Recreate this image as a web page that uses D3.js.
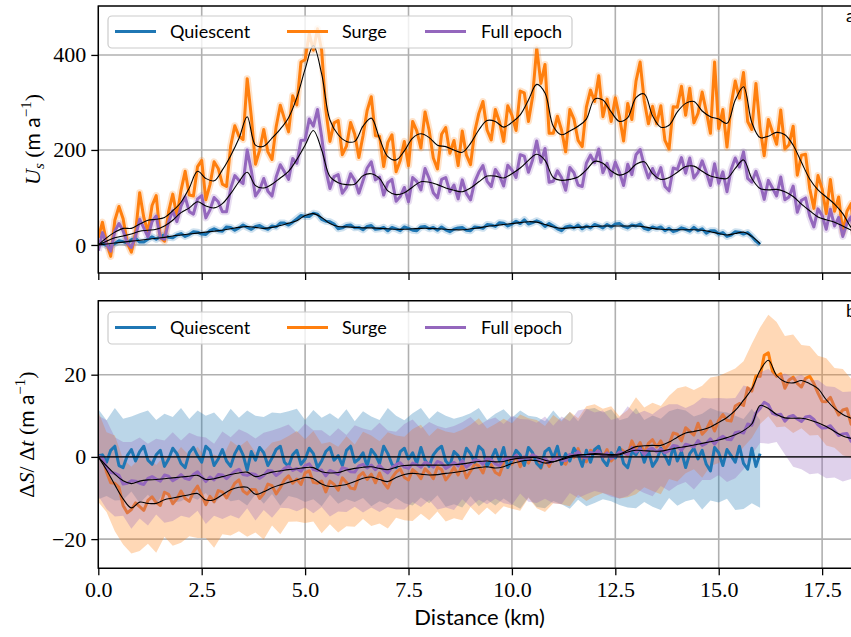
<!DOCTYPE html>
<html><head><meta charset="utf-8">
<script src="https://cdn.jsdelivr.net/npm/d3@7"></script>
<style>
html,body{margin:0;padding:0;background:#fff;}
svg{display:block;}
</style></head>
<body>
<svg id="chart" width="851" height="637"></svg>
<script>
// ---------------- DATA ----------------
const seriesNames = ["Quiescent", "Surge", "Full epoch"];
const xTickValues = [0, 2.5, 5, 7.5, 10, 12.5, 15, 17.5];
const usTickValues = [0, 200, 400];
const dsTickValues = [-20, 0, 20];
const fineStep = 0.1;   // km between raw samples
const coarseStep = 0.2; // km between smoothed / band samples

// Panel a: surface velocity U_s (m/a), raw profiles (0.1 km spacing)
const usQuiescent = [2,3,-1,-2,3,9,7,4,11,14, 6,6,12,17,12,18,21,16,15,21,
 24,18,22,28,27,23,22,30,34,30, 29,38,37,31,36,42,37,33,39,41,
 36,33,40,38,46,46,42,48,55,62, 60,60,67,65,54,50,49,44,34,36,
 41,42,36,37,32,39,41,33,34,37, 30,37,34,30,38,35,31,30,38,39,
 34,37,31,38,32,28,33,36,37,31, 30,38,37,35,43,42,39,47,46,40,
 44,50,45,53,44,47,51,47,39,45, 40,34,30,38,40,36,42,34,40,36,
 43,40,36,43,38,44,45,39,36,42, 40,44,35,32,38,35,38,30,35,28,
 31,36,33,29,37,30,34,25,30,30, 23,26,18,21,28,27,23,26,18,8, 1];
const usSurge = [15,48,5,-24,52,81,55,5,-15,25, 110,58,27,83,104,16,8,70,107,61,
 115,155,105,103,165,178,95,127,175,161, 128,123,208,251,229,222,350,270,170,199,
 243,196,180,249,294,266,238,314,295,385, 390,445,410,455,410,285,218,257,262,190,
 208,258,233,184,230,283,312,230,229,165, 216,232,154,178,218,167,260,240,204,280,
 241,183,160,233,247,193,220,167,240,189, 169,238,277,302,242,221,285,259,218,293,
 273,241,324,320,260,312,415,340,380,235, 235,271,242,196,285,265,220,207,290,326,
 302,356,270,307,260,310,270,219,298,264, 345,385,303,255,292,255,293,220,202,291,
 290,334,273,330,257,277,322,281,235,385, 245,285,206,295,345,309,363,260,243,340,
 246,188,264,238,212,284,202,211,250,147, 189,191,119,77,146,118,66,138,71,101,
 26,71,87,3,15,44,-37];
const usFull = [-12,26,2,-13,29,45,30,4,-5,18, 54,36,17,49,61,15,12,49,72,49,
 82,101,70,65,97,104,57,74,100,91, 70,70,119,146,136,129,200,156,103,116,
 140,113,103,143,169,154,138,182,172,220, 221,265,250,285,228,158,119,144,148,109,
 121,150,136,109,135,162,175,137,143,105, 131,138,92,102,121,91,142,134,116,161,
 140,110,99,138,142,112,126,97,137,108, 95,133,153,167,134,123,159,146,124,168,
 158,142,190,187,153,179,219,174,203,132, 134,156,142,115,163,152,126,123,172,189,
 173,202,152,172,145,174,153,125,170,148, 190,201,167,141,161,141,163,123,114,162,
 159,184,151,183,141,153,177,153,125,171, 130,154,112,159,183,164,196,140,132,155,
 130,96,136,120,103,143,95,101,124,69, 94,99,61,38,76,62,33,75,40,58,
 18,46,59,12,19,34,-13];
// Panel a: smoothed profiles (0.2 km spacing)
const usQuiescentSmooth = [0,2,4,6,8,10,12,14,16,19, 21,23,25,27,29,31,34,37,39,37,
 35,37,41,46,51,62,66,58,45,39, 38,37,36,36,35,34,33,33,34,35,
 35,34,33,32,32,34,36,39,41,43, 45,47,49,48,43,38,35,36,37,38,
 39,40,40,40,40,40,38,35,33,32, 32,32,32,31,28,24,21,24,27,18, 3];
const usSurgeSmooth = [0,15,27,35,35,44,52,54,58,72, 90,120,155,140,135,158,188,224,270,210,
 208,225,244,268,310,370,420,360,263,232, 218,218,250,267,224,186,179,198,225,234,
 226,210,207,200,195,214,242,262,260,248, 258,274,305,338,320,250,232,240,250,265,
 307,305,280,260,268,310,318,272,248,252, 280,298,302,282,270,265,256,305,333,258,
 226,229,237,232,210,174,139,116,101,86, 66,37,20,8];
const usFullSmooth = [0,8,15,19,23,29,31,33,40,52, 68,78,91,82,78,87,108,133,153,125,
 120,128,141,155,180,210,241,200,144,131, 127,128,146,150,140,114,106,110,122,133,
 132,127,120,115,112,120,133,145,145,141, 150,162,178,191,178,142,136,138,143,158,
 176,172,156,147,153,170,175,150,138,142, 153,165,166,155,145,141,140,161,179,140,
 119,116,117,112,102,86,72,59,53,48, 40,31,22,12];

// Panel b: surface elevation change rate dS/dt (m/a), raw profiles (0.1 km spacing)
const dsQuiescent = [0.3,0.5,-1.3,1.6,2.6,-2.1,-2.6,0.3,1.8,-1.0, 1.3,2.6,-0.8,-1.8,0.5,1.6,-2.3,-0.5,2.1,0.8,
 -1.6,-2.6,1.0,2.3,0.3,-1.3,2.6,1.6,-2.1,-0.5, 1.8,-1.0,-2.3,0.8,2.6,0.5,-3.2,1.3,-0.8,2.3,
 1.0,-2.1,-0.3,1.8,2.6,-1.3,-2.3,0.5,1.6,-1.8, -0.5,2.1,0.8,-2.6,-1.0,1.3,2.3,-0.8,0.3,-2.1,
 1.6,2.6,-1.3,-0.5,1.0,-2.3,1.8,0.5,-1.6,2.6, 0.8,-1.8,-2.6,1.3,2.1,-0.5,1.0,-1.6,2.3,-0.8,
 -2.3,0.5,1.8,2.6,-1.0,-2.1,1.3,0.3,-1.6,2.1, 0.8,-1.3,2.6,1.6,-2.3,-0.5,1.8,-1.0,2.3,-2.6,
 -0.8,1.6,0.5,-2.1,2.3,1.0,-1.6,-2.6,1.3,2.1, -0.3,2.6,-1.8,0.8,-1.0,2.1,0.5,-2.3,1.6,-1.3,
 1.8,2.6,-0.8,-2.1,1.0,-0.3,2.3,-1.6,-2.6,1.3, 0.5,2.3,-1.3,1.6,-2.3,-0.8,2.1,0.3,-1.8,2.6,
 -1.0,1.3,-2.6,0.8,2.1,-0.5,1.6,-1.8,-3.4,2.3, 1.0,-2.1,1.8,0.3,-1.3,2.6,-1.6,-3.0,2.1,-2.3, 0.8];
const dsSurge = [0.5,0.2,-3.7,-6.3,-6.4,-7.4,-11.8,-13.6,-12.8,-11.2, -12.1,-13.0,-10.6,-9.7,-11.1,-11.8,-8.6,-9.1,-11.4,-10.2,
 -8.3,-10.1,-10.8,-8.5,-7.1,-9.3,-11.6,-9.6,-10.9,-8.2, -8.5,-10.0,-8.2,-6.4,-5.6,-8.3,-9.0,-7.9,-8.0,-10.1,
 -8.9,-6.6,-7.0,-9.0,-7.5,-5.6,-4.6,-6.4,-5.4,-6.7, -3.9,-3.4,-6.2,-6.4,-5.9,-8.5,-5.9,-6.7,-8.1,-5.1,
 -6.2,-7.6,-7.8,-4.7,-3.8,-5.5,-4.2,-6.3,-3.9,-6.3, -7.6,-5.1,-3.7,-2.9,-5.0,-5.6,-3.1,-3.9,-5.3,-2.9,
 -3.9,-5.3,-2.5,-3.1,-5.6,-4.3,-2.5,-4.4,-1.9,-5.1, -3.5,-1.7,-2.2,-3.9,-0.8,-1.9,-3.8,-4.4,-1.5,-0.6,
 -1.8,0.5,-2.4,-0.4,-1.5,0.6,-0.5,-2.8,-0.4,-2.3, 0.1,0.9,-1.2,-1.8,0.6,-0.1,2.0,-0.6,-1.2,1.6,
 1.2,2.4,-0.2,1.8,-1.0,0.1,2.1,1.4,0.3,3.9, 1.8,3.5,0.9,3.3,4.2,2.4,3.9,1.9,3.1,5.8,
 5.5,3.9,7.1,6.2,5.3,8.2,5.5,6.6,8.7,6.3, 8.9,10.3,8.9,8.7,12.4,13.0,12.5,16.8,16.0,19.7,
 19.6,24.7,25.3,20.8,19.6,20.2,16.7,18.7,19.4,17.9, 17.0,19.1,19.6,17.9,15.5,13.5,13.4,14.5,12.2,10.2,
 11.4,11.7,8.0,7.2,8.7,9.5,7.1];
const dsFull = [0.2,-0.2,-2.5,-3.8,-4.0,-4.5,-6.6,-6.4,-5.8,-5.9, -6.4,-6.7,-5.2,-4.8,-5.4,-5.9,-4.4,-4.7,-5.8,-5.2,
 -4.3,-5.2,-5.5,-4.3,-3.6,-4.8,-6.0,-4.9,-5.6,-4.3, -4.4,-5.3,-4.4,-3.5,-3.0,-4.3,-4.5,-4.1,-4.3,-5.2,
 -4.5,-3.3,-3.4,-4.5,-3.8,-2.8,-2.3,-3.3,-2.8,-3.5, -2.1,-1.7,-3.1,-3.3,-3.2,-4.6,-3.3,-3.7,-4.3,-2.6,
 -2.9,-3.6,-3.7,-2.2,-1.8,-2.7,-2.0,-3.1,-2.0,-3.2, -3.9,-2.6,-1.9,-1.4,-2.5,-2.8,-1.5,-1.9,-2.5,-1.3,
 -1.7,-2.5,-1.1,-1.5,-2.8,-2.2,-1.3,-2.2,-0.9,-2.5, -1.7,-0.7,-0.9,-1.8,-0.2,-0.7,-1.7,-2.1,-0.6,-0.1,
 -0.7,0.4,-0.9,0.0,-0.6,0.5,0.0,-1.3,-0.3,-1.5, -0.6,0.0,-0.8,-0.9,0.6,0.3,1.3,0.0,-0.3,1.1,
 0.8,1.4,0.0,1.0,-0.4,0.2,1.2,1.0,0.6,2.3, 1.2,2.0,0.6,1.8,2.1,1.2,1.9,1.0,1.5,2.8,
 2.6,1.6,3.1,2.8,2.4,4.0,2.8,3.3,4.4,3.1, 4.4,5.0,4.3,4.2,5.9,6.1,5.8,8.0,7.7,10.7,
 11.8,13.3,12.7,10.6,10.2,10.4,8.7,9.8,10.1,9.2, 8.6,9.7,9.9,9.1,7.8,7.0,7.1,7.6,6.4,5.2,
 5.6,5.7,3.8,3.4,4.1,4.4,3.2];
// Panel b: smoothed profiles (0.2 km spacing)
const dsSurgeSmooth = [0,-3.2,-6.8,-10.2,-12.4,-11.0,-11.3,-11.3,-10.4,-10.0, -9.6,-9.2,-8.9,-10.5,-10.4,-9.2,-8.0,-7.4,-7.4,-9.1,
 -8.5,-7.5,-6.8,-6.2,-5.6,-5.0,-5.3,-6.6,-7.2,-7.0, -6.7,-6.0,-5.2,-4.9,-5.5,-6.0,-5.0,-4.3,-4.0,-4.2,
 -4.4,-4.3,-4.0,-3.8,-3.5,-3.0,-2.6,-2.4,-2.7,-2.4, -1.6,-1.1,-0.8,-0.9,-1.5,-1.2,-0.7,-0.1,0.4,0.6,
 0.8,0.7,0.6,0.7,1.6,2.5,2.7,2.8,2.8,3.6, 4.8,5.8,6.2,6.6,7.3,8.4,9.6,11.3,13.8,16.5,
 21.0,23.5,19.8,18.3,18.0,18.6,17.8,16.6,13.9,11.8, 10.3,9.4,8.5,7.8];
const dsFullSmooth = [0,-2.2,-4.2,-5.8,-6.5,-5.9,-5.6,-5.5,-5.3,-5.1, -4.9,-4.7,-4.5,-5.5,-5.3,-4.8,-4.3,-3.9,-3.7,-4.8,
 -4.3,-3.7,-3.4,-3.1,-2.9,-2.6,-2.6,-3.6,-3.9,-3.8, -3.2,-2.8,-2.5,-2.4,-2.8,-3.1,-2.5,-2.1,-2.0,-2.0,
 -2.0,-2.0,-2.0,-1.9,-1.7,-1.4,-1.1,-1.0,-1.2,-1.1, -0.6,-0.3,-0.2,-0.2,-0.8,-1.2,-0.5,0.2,0.5,0.6,
 0.6,0.5,0.4,0.5,1.2,1.6,1.5,1.4,1.4,1.8, 2.2,2.5,2.9,3.3,3.7,4.1,4.7,5.4,6.4,8.0,
 12.5,11.8,10.3,9.5,9.4,9.4,9.0,8.3,7.4,6.2, 5.1,4.5,4.0,3.6];
// Panel b: spread bands (0.2 km spacing)
const dsQuiescentHi = [11.6,8.9,11.9,9.3,9.8,10.6,11.3,9.0,10.5,9.7, 11.9,9.2,11.3,10.0,10.8,8.7,11.7,9.5,11.3,10.0,
 9.7,10.8,10.6,11.1,11.7,9.0,11.4,9.5,10.6,9.2, 11.6,8.7,11.1,9.8,9.0,11.9,10.0,8.9,10.6,11.9,
 9.2,11.1,10.0,9.3,9.8,10.6,11.9,9.0,10.5,11.6, 9.5,11.3,10.0,9.7,8.7,11.3,9.0,10.9,8.7,11.6,
 11.9,10.8,11.6,8.9,9.5,11.9,9.0,10.1,9.3,11.1, 11.7,11.3,9.8,10.5,11.9,11.1,10.8,10.0,9.2,11.7, 9.0];
const dsQuiescentLo = [-10.3,-9.5,-10.6,-10.5,-8.4,-11.3,-9.2,-11.5,-8.5,-11.1, -10.8,-9.6,-10.4,-8.8,-11.4,-9.3,-10.8,-10.4,-11.8,-9.1,
 -11.4,-9.0,-11.9,-9.5,-10.0,-11.0,-10.3,-12.0,-9.2,-11.4, -10.3,-11.0,-10.0,-12.0,-10.8,-11.6,-10.0,-11.3,-11.8,-9.9,
 -11.3,-9.3,-12.1,-11.5,-12.3,-9.6,-12.0,-10.4,-11.8,-10.1, -11.5,-12.6,-9.8,-12.2,-12.5,-10.7,-11.5,-12.6,-10.4,-12.0,
 -11.2,-10.3,-10.8,-11.7,-12.3,-12.5,-11.0,-12.1,-12.9,-10.0, -11.9,-10.8,-10.3,-12.8,-10.6,-11.1,-10.2,-12.9,-12.7,-11.3, -12.4];
const dsSurgeHi = [11.0,6.0,5.2,-0.6,-2.4,-0.2,0.1,-2.0,0.3,-0.1, 2.4,0.3,2.5,-0.3,0.6,-0.2,3.9,2.4,4.0,1.1,
 1.4,3.5,4.0,5.1,6.3,4.3,6.3,3.2,3.6,2.5, 5.0,3.0,6.1,5.2,3.8,6.0,5.2,4.9,6.8,7.8,
 5.1,7.0,6.2,5.8,6.6,7.8,9.4,6.9,8.0,9.3, 8.2,10.3,9.4,9.0,7.5,10.2,8.6,11.0,9.4,12.3,
 12.8,11.7,12.3,9.9,11.4,14.5,12.0,13.2,12.4,14.9, 16.7,17.2,16.3,17.3,19.3,19.7,20.6,21.5,23.3,27.5,
 31.5,34.6,32.8,29.4,29.8,27.2,27.0,24.6,24.0,21.6, 21.4,19.0,19.2,17.4];
const dsSurgeLo = [-11.0,-13.4,-18.1,-21.3,-23.5,-22.9,-21.1,-23.3,-19.4,-21.6, -20.9,-19.3,-19.7,-19.7,-22.1,-18.8,-19.1,-18.1,-19.4,-18.4,
 -20.1,-16.7,-18.8,-15.8,-15.7,-16.1,-15.7,-18.6,-16.4,-18.4, -16.9,-17.0,-15.1,-16.8,-16.2,-17.4,-14.8,-15.4,-15.6,-13.8,
 -15.4,-13.3,-15.7,-14.9,-15.4,-12.2,-14.2,-12.3,-14.0,-12.0, -12.6,-13.1,-10.0,-12.5,-13.4,-11.3,-11.5,-12.0,-9.2,-10.7,
 -9.6,-8.8,-9.3,-10.1,-9.8,-9.1,-7.4,-8.3,-9.1,-5.4, -6.0,-4.0,-3.0,-5.1,-2.2,-1.5,0.6,-0.4,2.4,4.6,
 8.0,9.9,7.2,7.4,5.8,7.0,5.2,5.3,2.8,2.2, 0.4,-0.2,-1.3,-1.4];
const dsFullHi = [10.0,8.9,4.8,3.6,3.6,4.7,3.2,4.4,4.0,6.0, 4.0,5.9,5.0,4.7,3.2,6.2,4.8,6.7,5.8,4.5,
 5.9,6.4,7.1,7.9,5.9,8.1,6.5,6.5,5.0,7.0, 5.3,7.7,6.9,6.4,8.3,6.4,6.1,8.0,9.1,6.9,
 8.5,7.5,7.0,7.5,8.4,9.7,7.7,8.9,9.6,8.0, 10.0,9.2,9.1,8.3,9.8,7.6,9.8,8.7,11.3,11.7,
 10.8,11.3,9.0,9.6,12.3,10.4,11.2,10.4,11.9,12.8, 12.8,11.9,12.8,14.4,14.2,14.3,14.2,14.3,17.4,16.8,
 20.6,21.4,19.6,20.3,19.4,20.0,18.6,18.7,17.2,17.0, 15.8,15.9,14.6,14.6];
const dsFullLo = [-9.5,-12.7,-14.5,-14.3,-17.5,-15.0,-16.7,-14.0,-16.0,-15.6, -14.3,-14.8,-13.1,-16.3,-14.3,-15.1,-14.2,-15.0,-12.5,-15.5,
 -12.9,-14.8,-12.4,-12.5,-13.2,-12.3,-13.7,-12.2,-14.5,-13.3, -13.4,-12.1,-13.5,-12.3,-13.4,-12.2,-12.8,-12.8,-11.0,-12.2,
 -10.5,-12.8,-12.3,-12.9,-10.3,-12.1,-10.4,-11.5,-10.2,-11.3, -11.7,-8.9,-10.9,-11.2,-10.2,-11.3,-11.5,-8.8,-10.0,-9.1,
 -8.3,-8.8,-9.7,-10.1,-9.5,-7.8,-8.8,-9.6,-7.1,-8.3, -6.9,-6.1,-7.9,-5.6,-5.6,-4.4,-6.1,-5.2,-3.0,0.5,
 3.4,3.2,3.6,0.6,-2.4,-3.0,-4.2,-4.0,-5.2,-5.0, -6.0,-5.4,-6.4,-5.8];

// ---------------- LAYOUT / STYLE ----------------
const colors = {q: "#1f77b4", s: "#ff7f0e", f: "#9467bd"};
const serif = "'Liberation Serif', 'DejaVu Serif', serif";
const sans = "Lato, 'DejaVu Sans', sans-serif";
const X0 = 98.3, X1 = 861;
const panelA = {top: 6, bottom: 273};
const panelB = {top: 300.7, bottom: 568.3};

const svg = d3.select("#chart");
const x = d3.scaleLinear().domain([0, 18.44]).range([X0, X1]);
const yA = d3.scaleLinear().domain([-59, 503]).range([panelA.bottom, panelA.top]);
const yB = d3.scaleLinear().domain([-27.1, 38]).range([panelB.bottom, panelB.top]);

const pts = (arr, step) => arr.map((v, i) => [i * step, v]);
const band = (lo, hi, step) => lo.map((v, i) => [i * step, v, hi[i]]);

function panel(id, p, y, yTicks) {
  const g = svg.append("g");
  svg.append("clipPath").attr("id", id).append("rect")
    .attr("x", X0).attr("y", p.top).attr("width", X1 - X0).attr("height", p.bottom - p.top);
  g.selectAll(".gx").data(xTickValues).join("line")
    .attr("x1", d => x(d)).attr("x2", d => x(d)).attr("y1", p.top).attr("y2", p.bottom)
    .attr("stroke", "#b0b0b0").attr("stroke-width", 1.6);
  g.selectAll(".gy").data(yTicks).join("line")
    .attr("x1", X0).attr("x2", X1).attr("y1", d => y(d)).attr("y2", d => y(d))
    .attr("stroke", "#b0b0b0").attr("stroke-width", 1.6);
  const data = svg.append("g").attr("clip-path", `url(#${id})`);
  return {g, data};
}

function axes(p, y, yTicks, showXLabels) {
  const ax = svg.append("g");
  const yAxis = ax.append("g").attr("transform", `translate(${X0},0)`)
    .call(d3.axisLeft(y).tickValues(yTicks).tickSize(7).tickPadding(5).tickFormat(d3.format("d")));
  const xAxis = ax.append("g").attr("transform", `translate(0,${p.bottom})`)
    .call(d3.axisBottom(x).tickValues(xTickValues).tickSize(7).tickPadding(6)
      .tickFormat(showXLabels ? d3.format(".1f") : ""));
  [yAxis, xAxis].forEach(a => {
    a.select(".domain").remove();
    a.selectAll(".tick line").attr("stroke", "#000").attr("stroke-width", 1.3);
    a.selectAll(".tick text").attr("font-family", serif).attr("font-size", 22).attr("fill", "#000");
  });
  ax.append("path")
    .attr("d", `M${X1 + 2},${p.top}H${X0}V${p.bottom}H${X1 + 2}`)
    .attr("fill", "none").attr("stroke", "#000").attr("stroke-width", 1.4);
}

function legend(yTop) {
  const lg = svg.append("g");
  lg.append("rect").attr("x", 108).attr("y", yTop).attr("width", 464).attr("height", 32)
    .attr("rx", 4).attr("fill", "#fff").attr("fill-opacity", 0.8)
    .attr("stroke", "#cccccc").attr("stroke-width", 1.2);
  const entries = [
    {name: seriesNames[0], c: colors.q, x: 115, tx: 170},
    {name: seriesNames[1], c: colors.s, x: 287, tx: 342},
    {name: seriesNames[2], c: colors.f, x: 425, tx: 481}];
  entries.forEach(e => {
    lg.append("line").attr("x1", e.x).attr("x2", e.x + 41).attr("y1", yTop + 15.5).attr("y2", yTop + 15.5)
      .attr("stroke", e.c).attr("stroke-width", 3);
    lg.append("text").attr("x", e.tx).attr("y", yTop + 21.5).text(e.name)
      .attr("font-family", sans).attr("font-size", 18).attr("fill", "#000");
  });
}

// ---------------- PANEL A ----------------
const A = panel("clipA", panelA, yA, usTickValues);
const lineA = d3.line().x(d => x(d[0])).y(d => yA(d[1]));
const smoothA = d3.line().curve(d3.curveCatmullRom.alpha(0.5)).x(d => x(d[0])).y(d => yA(d[1]));
const rawA = [[usQuiescent, colors.q], [usSurge, colors.s], [usFull, colors.f]];
rawA.forEach(([arr, c]) => {
  A.data.append("path").attr("d", lineA(pts(arr, fineStep))).attr("fill", "none")
    .attr("stroke", c).attr("stroke-opacity", 0.22).attr("stroke-width", 7).attr("stroke-linejoin", "round");
});
rawA.forEach(([arr, c]) => {
  A.data.append("path").attr("d", lineA(pts(arr, fineStep))).attr("fill", "none")
    .attr("stroke", c).attr("stroke-width", 3).attr("stroke-linejoin", "round");
});
[usQuiescentSmooth, usSurgeSmooth, usFullSmooth].forEach(arr => {
  A.data.append("path").attr("d", smoothA(pts(arr, coarseStep))).attr("fill", "none")
    .attr("stroke", "#000").attr("stroke-width", 1.1);
});
axes(panelA, yA, usTickValues, false);
legend(16);
svg.append("text").attr("x", 846).attr("y", 22).text("a")
  .attr("font-family", sans).attr("font-size", 18);

// ---------------- PANEL B ----------------
const B = panel("clipB", panelB, yB, dsTickValues);
const lineB = d3.line().x(d => x(d[0])).y(d => yB(d[1]));
const smoothB = d3.line().curve(d3.curveCatmullRom.alpha(0.5)).x(d => x(d[0])).y(d => yB(d[1]));
const areaB = d3.area().x(d => x(d[0])).y0(d => yB(d[1])).y1(d => yB(d[2]));
B.data.append("path").attr("d", areaB(band(dsQuiescentLo, dsQuiescentHi, coarseStep)))
  .attr("fill", colors.q).attr("fill-opacity", 0.3);
B.data.append("path").attr("d", areaB(band(dsSurgeLo, dsSurgeHi, coarseStep)))
  .attr("fill", colors.s).attr("fill-opacity", 0.3);
B.data.append("path").attr("d", lineB(pts(dsSurge, fineStep))).attr("fill", "none")
  .attr("stroke", colors.s).attr("stroke-width", 3).attr("stroke-linejoin", "round");
B.data.append("path").attr("d", areaB(band(dsFullLo, dsFullHi, coarseStep)))
  .attr("fill", colors.f).attr("fill-opacity", 0.3);
B.data.append("path").attr("d", lineB(pts(dsQuiescent, fineStep))).attr("fill", "none")
  .attr("stroke", colors.q).attr("stroke-width", 3).attr("stroke-linejoin", "round");
B.data.append("path").attr("d", lineB(pts(dsFull, fineStep))).attr("fill", "none")
  .attr("stroke", colors.f).attr("stroke-width", 3).attr("stroke-linejoin", "round");
[dsSurgeSmooth, dsFullSmooth].forEach(arr => {
  B.data.append("path").attr("d", smoothB(pts(arr, coarseStep))).attr("fill", "none")
    .attr("stroke", "#000").attr("stroke-width", 1.1);
});
B.data.append("line").attr("x1", X0).attr("x2", X1).attr("y1", yB(0)).attr("y2", yB(0))
  .attr("stroke", "#000").attr("stroke-width", 1.3);
axes(panelB, yB, dsTickValues, true);
legend(312);
svg.append("text").attr("x", 846).attr("y", 317).text("b")
  .attr("font-family", sans).attr("font-size", 18);

// ---------------- AXIS LABELS ----------------
svg.append("text").attr("x", (X0 + X1) / 2).attr("y", 625).attr("text-anchor", "middle")
  .attr("font-family", sans).attr("font-size", 22).text("Distance (km)");

const yl1 = svg.append("text").attr("transform", `translate(40,${(panelA.top + panelA.bottom) / 2}) rotate(-90)`)
  .attr("text-anchor", "middle").attr("font-size", 22);
yl1.append("tspan").attr("font-family", serif).attr("font-style", "italic").text("U");
yl1.append("tspan").attr("font-family", serif).attr("font-style", "italic").attr("font-size", 15).attr("dy", 4).text("s");
yl1.append("tspan").attr("font-family", serif).attr("dy", -4).text(" (");
yl1.append("tspan").attr("font-family", sans).attr("font-size", 21).text("m a");
yl1.append("tspan").attr("font-family", serif).attr("font-size", 15).attr("dy", -9).text("−1");
yl1.append("tspan").attr("font-family", serif).attr("dy", 9).text(")");

const yl2 = svg.append("text").attr("transform", `translate(34,${(panelB.top + panelB.bottom) / 2}) rotate(-90)`)
  .attr("text-anchor", "middle").attr("font-size", 22).attr("font-family", serif);
yl2.append("tspan").text("Δ");
yl2.append("tspan").attr("font-style", "italic").text("S");
yl2.append("tspan").text("/ Δ");
yl2.append("tspan").attr("font-style", "italic").text("t");
yl2.append("tspan").text(" (");
yl2.append("tspan").attr("font-family", sans).attr("font-size", 21).text("m a");
yl2.append("tspan").attr("font-size", 15).attr("dy", -9).text("−1");
yl2.append("tspan").attr("dy", 9).text(")");
</script>
</body></html>
